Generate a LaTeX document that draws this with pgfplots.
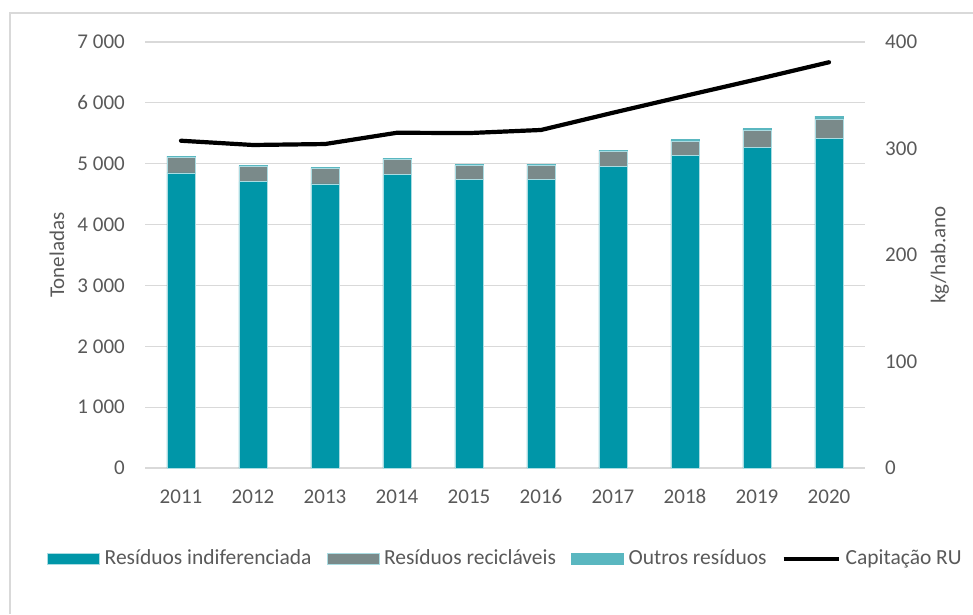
\documentclass[border=0pt]{standalone}
\usepackage{pgfplots}
\pgfplotsset{compat=1.18}
\usepackage{fontspec}
\setmainfont{Carlito}
\definecolor{cIndif}{RGB}{0,150,168}
\definecolor{cRec}{RGB}{122,138,138}
\definecolor{cOut}{RGB}{90,183,192}
\definecolor{cEdge}{RGB}{170,220,226}
\definecolor{txt}{RGB}{89,89,89}
\definecolor{grd}{RGB}{217,217,217}
\pgfplotstableread{
x indif rec out cap
0 4850 255 20 307.3
1 4705 250 12 303.3
2 4670 248 17 304.2
3 4820 252 17 314.8
4 4737 237 10 314.5
5 4743 225 27 317.4
6 4962 235 28 333.6
7 5132 230 32 349.4
8 5263 279 33 365.0
9 5411 324 49 381.0
}\data
\begin{document}
\fontsize{21}{25}\selectfont
\begin{tikzpicture}
\path[use as bounding box] (0pt,0pt) rectangle (973pt,-614pt);
\draw[grd, line width=1.5pt] (10pt,-614pt) -- (10pt,-13pt) -- (973pt,-13pt);
\begin{axis}[
  at={(145pt,-468pt)}, anchor=south west,
  scale only axis, width=720pt, height=426pt,
  xmin=-0.5, xmax=9.5, ymin=0, ymax=7000,
  ybar stacked, bar width=28.5pt,
  axis y line*=left, axis x line*=bottom,
  y axis line style={draw=none},
  x axis line style={grd, line width=1.2pt, -},
  ymajorgrids, grid style={grd, line width=1.2pt},
  xtick={0,...,9}, xticklabels={2011,2012,2013,2014,2015,2016,2017,2018,2019,2020},
  ytick={0,1000,...,7000},
  yticklabels={0,1 000,2 000,3 000,4 000,5 000,6 000,7 000},
  /pgf/number format/assume math mode=true,
  major tick length=0pt,
  tick label style={font=\fontsize{21}{25}\selectfont, text=txt, inner sep=0pt},
  yticklabel style={anchor=east, xshift=-20pt},
  xticklabel style={anchor=base, yshift=-35pt},
  ylabel={Toneladas},
  ylabel style={at={(axis description cs:-0.1222,0.5)}, anchor=center, font=\fontsize{21}{25}\selectfont, text=txt},
  legend columns=4,
  legend cell align=left,
  legend style={at={(axis description cs:-0.1361,-0.2136)}, anchor=west, draw=none, fill=none, inner sep=0pt,
    font=\fontsize{21.5}{25}\selectfont, text=txt,
    nodes={inner sep=0pt},
    /tikz/every odd column/.append style={column sep=5pt},
    /tikz/every even column/.append style={column sep=15pt}},
  legend image code/.code={\fill[#1] (0pt,-5.5pt) rectangle (52pt,5.5pt);},
]
\addplot[fill=cIndif, draw=cEdge, line width=0.5pt] table[x=x, y=indif] {\data};
\addlegendentry{Resíduos indiferenciada}
\addplot[fill=cRec, draw=cEdge, line width=0.5pt] table[x=x, y=rec] {\data};
\addlegendentry{Resíduos recicláveis}
\addplot[fill=cOut, draw=cOut, line width=0.5pt] table[x=x, y=out] {\data};
\addlegendentry{Outros resíduos}
\addlegendimage{legend image code/.code={\draw[black, line width=4pt] (0pt,0pt) -- (55pt,0pt);}}
\addlegendentry{Capitação RU}
\end{axis}
\begin{axis}[
  at={(145pt,-468pt)}, anchor=south west,
  scale only axis, width=720pt, height=426pt,
  xmin=-0.5, xmax=9.5, ymin=0, ymax=400,
  axis x line=none, axis y line*=right, y axis line style={draw=none},
  ytick={0,100,...,400},
  /pgf/number format/assume math mode=true,
  major tick length=0pt,
  tick label style={font=\fontsize{21}{25}\selectfont, text=txt, inner sep=0pt},
  yticklabel style={anchor=west, xshift=20pt},
  ylabel={kg/hab.ano},
  ylabel style={at={(axis description cs:1.104,0.5)}, anchor=center, font=\fontsize{21}{25}\selectfont, text=txt},
]
\addplot[black, line width=4.2pt, line join=round, line cap=round, mark=none] table[x=x, y=cap] {\data};
\end{axis}
\end{tikzpicture}
\end{document}
